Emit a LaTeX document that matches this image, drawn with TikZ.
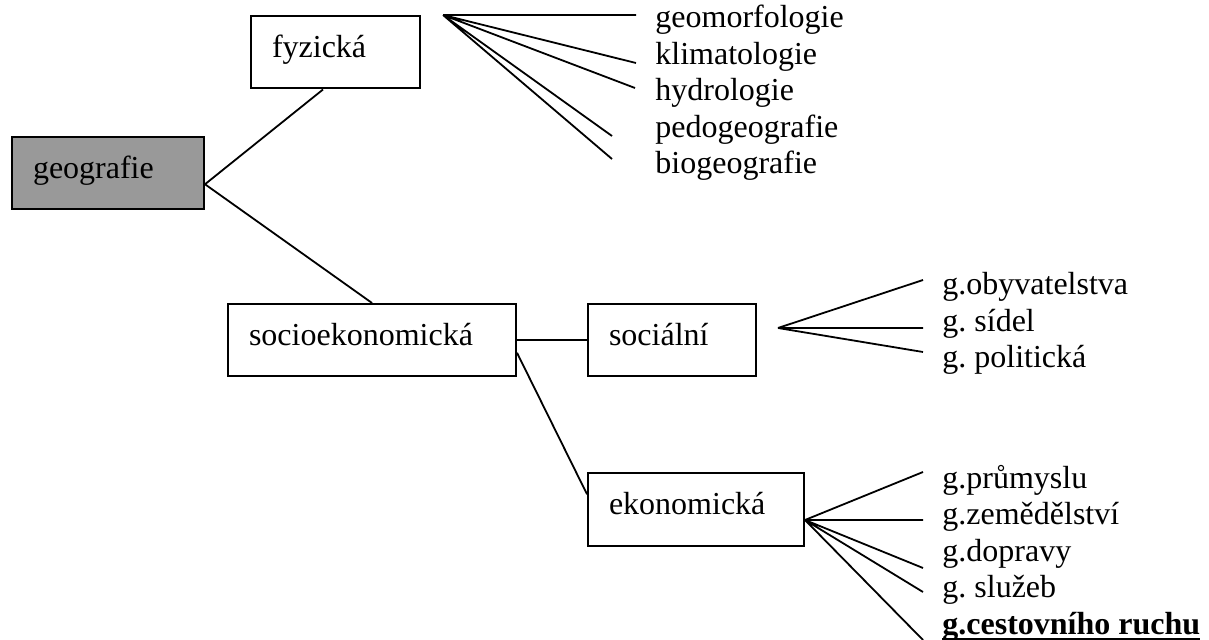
\documentclass[tikz,border=0pt]{standalone}
\usepackage{fontspec}
\setmainfont{Liberation Serif}
\usetikzlibrary{calc}
\definecolor{geogray}{RGB}{153,153,153}
\tikzset{
  field/.style={draw,line width=1pt,anchor=north west,inner xsep=10.5pt,inner ysep=0pt,
    text height=21pt,text depth=15.25pt,text width=#1,align=left},
  branch/.style={anchor=base west,inner sep=0pt},
  link/.style={line width=0.9pt}
}
\newlength\ulwidth
\newcommand{\ulbold}[1]{\settowidth\ulwidth{\bfseries #1}{\bfseries\rlap{#1}}\rule[-3pt]{\ulwidth}{0.9pt}}
\frenchspacing

\begin{document}
\begin{tikzpicture}[x=0.5pt,y=-0.5pt,font=\fontsize{16}{18}\selectfont]
\useasboundingbox (0,0) rectangle (1209,640);
% boxes
\node[field=75pt,fill=geogray] (geo) at (11,136) {geografie};
\node[field=63.5pt] (fyz) at (250,15) {fyzická};
\node[field=123pt] (socio) at (227,303) {socioekonomická};
\node[field=63pt] (soc) at (587,303) {sociální};
\node[field=87pt] (eko) at (587,472) {ekonomická};
\draw[link] ([yshift=-5.5pt]geo.east) -- ([xshift=-6.25pt]fyz.south);
\draw[link] ([yshift=-5.5pt]geo.east) -- (socio.north);
\draw[link] (socio.east) -- (soc.west);
\draw[link] ([yshift=-6.25pt]socio.east) -- ([yshift=7.5pt]eko.west);
% physical branches
\coordinate (fz) at (443,15);
\coordinate (fz1) at (636,15);
\coordinate (fz2) at (636,63);
\coordinate (fz3) at (635,88);
\coordinate (fz4) at (612,136);
\coordinate (fz5) at (612,159);
\draw[link] (fz) -- (fz1) (fz) -- (fz2) (fz) -- (fz3) (fz) -- (fz4) (fz) -- (fz5);
\node[branch] (geomorf) at (655,28) {geomorfologie};
\node[branch] (klima) at (655,64.5) {klimatologie};
\node[branch] (hydro) at (655,101) {hydrologie};
\node[branch] (pedo) at (655,137.5) {pedogeografie};
\node[branch] (bio) at (655,174) {biogeografie};
% social branches
\coordinate (so) at (778,328);
\coordinate (so1) at (923,280);
\coordinate (so2) at (923,328);
\coordinate (so3) at (923,352);
\draw[link] (so) -- (so1) (so) -- (so2) (so) -- (so3);
\node[branch] (obyv) at (942,295) {g.obyvatelstva};
\node[branch] (sidel) at (942,331.5) {g. sídel};
\node[branch] (polit) at (942,368) {g. politická};
% economic branches
\coordinate (ek) at (805,520);
\coordinate (ek1) at (923,472);
\coordinate (ek2) at (923,520);
\coordinate (ek3) at (923,568);
\coordinate (ek4) at (923,592);
\coordinate (ek5) at (923,640);
\draw[link] (ek) -- (ek1) (ek) -- (ek2) (ek) -- (ek3) (ek) -- (ek4) (ek) -- (ek5);
\node[branch] (prum) at (942,488) {g.průmyslu};
\node[branch] (zemed) at (942,524.5) {g.zemědělství};
\node[branch] (dopr) at (942,561) {g.dopravy};
\node[branch] (sluz) at (942,597.5) {g. služeb};
\node[branch] (cest) at (942,634) {\ulbold{g.cestovního ruchu}};
\end{tikzpicture}
\end{document}
